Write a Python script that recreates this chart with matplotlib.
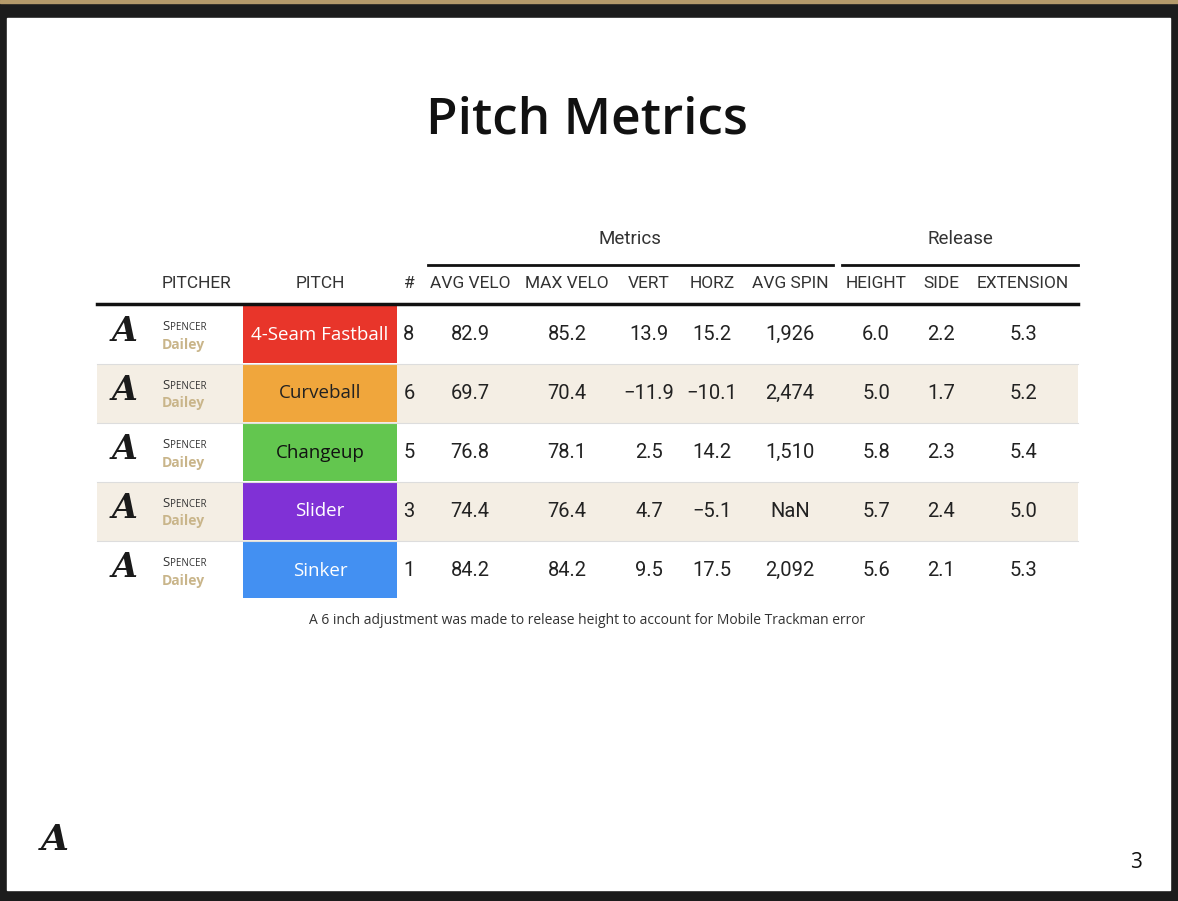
import matplotlib.pyplot as plt
import matplotlib.patches as patches

pitches = ['4-Seam Fastball', 'Curveball', 'Changeup', 'Slider', 'Sinker']
counts = ['8', '6', '5', '3', '1']
avg_velo = ['82.9', '69.7', '76.8', '74.4', '84.2']
max_velo = ['85.2', '70.4', '78.1', '76.4', '84.2']
vert = ['13.9', '\u221211.9', '2.5', '4.7', '9.5']
horz = ['15.2', '\u221210.1', '14.2', '\u22125.1', '17.5']
avg_spin = ['1,926', '2,474', '1,510', 'NaN', '2,092']
height = ['6.0', '5.0', '5.8', '5.7', '5.6']
side = ['2.2', '1.7', '2.3', '2.4', '2.1']
extension = ['5.3', '5.2', '5.4', '5.0', '5.3']
pitch_colors = ['#E8352A', '#F0A63C', '#63C64F', '#8031D6', '#4390F2']
pitch_text = ['white', '#222222', '#111111', 'white', 'white']

headers = ['PITCHER', 'PITCH', '#', 'AVG VELO', 'MAX VELO', 'VERT', 'HORZ',
           'AVG SPIN', 'HEIGHT', 'SIDE', 'EXTENSION']

fig = plt.figure(figsize=(11.78, 9.01), dpi=100, facecolor='#1c1c1c')
ax = fig.add_axes([0, 0, 1, 1])
ax.set_xlim(0, 1178)
ax.set_ylim(901, 0)
ax.axis('off')

# slide
ax.add_patch(patches.Rectangle((0, 0), 1178, 3, color='#b59a6a'))
ax.add_patch(patches.Rectangle((7, 18), 1163, 872, color='white'))

ax.text(587, 120, 'Pitch Metrics', fontsize=37, fontweight='semibold',
        family='Open Sans', ha='center', va='center', color='#111111')

tf = 'Roboto'
# group headers
ax.text(630, 239, 'Metrics', fontsize=13.5, family=tf, ha='center', va='center', color='#333333')
ax.text(960, 239, 'Release', fontsize=13.5, family=tf, ha='center', va='center', color='#333333')
ax.plot([428, 833], [265, 265], color='#111111', lw=2)
ax.plot([842, 1078], [265, 265], color='#111111', lw=2)

col_x = [162, 320, 409, 470, 567, 649, 712, 790, 876, 941, 1023]
for i, h in enumerate(headers):
    ax.text(col_x[i], 283, h, fontsize=12.5, family=tf, color='#333333',
            ha='left' if i == 0 else 'center', va='center')
ax.plot([97, 1078], [304, 304], color='#111111', lw=2.5)

top = 305
rh = 59
for r in range(len(pitches)):
    y0 = top + r * rh
    yc = y0 + rh / 2
    if r % 2 == 1:
        ax.add_patch(patches.Rectangle((97, y0), 981, rh, color='#F4EEE4', lw=0))
    if r > 0:
        ax.plot([97, 1078], [y0, y0], color='#dddddd', lw=0.8)
    ax.add_patch(patches.Rectangle((243, y0), 154, rh - 1 if r < 4 else rh - 2,
                                   color=pitch_colors[r], lw=0))
    ax.text(320, yc, pitches[r], fontsize=13.5, family='Open Sans',
            color=pitch_text[r], ha='center', va='center')
    # logo stand-in
    ax.text(125, yc - 3, 'A', fontsize=24, fontweight='bold', style='italic',
            family='DejaVu Serif', color='#1a1a1a', ha='center', va='center')
    ax.text(162, yc - 8, 'S', fontsize=9.5, family='Open Sans', color='#333333', va='center')
    ax.text(170, yc - 7, 'PENCER', fontsize=7, family='Open Sans', color='#333333', va='center')
    ax.text(162, yc + 10, 'Dailey', fontsize=10, fontweight='bold', family='Open Sans',
            color='#C9B58A', va='center')
    vals = [counts[r], avg_velo[r], max_velo[r], vert[r], horz[r], avg_spin[r],
            height[r], side[r], extension[r]]
    for j, v in enumerate(vals):
        ax.text(col_x[j + 2], yc, v, fontsize=14.5, family=tf, color='#222222',
                ha='center', va='center')

ax.text(587, 621, 'A 6 inch adjustment was made to release height to account for Mobile Trackman error',
        fontsize=10, family='Open Sans', color='#333333', ha='center', va='center')
ax.text(55, 840, 'A', fontsize=26, fontweight='bold', style='italic',
        family='DejaVu Serif', color='#1a1a1a', ha='center', va='center')
ax.text(1136, 862, '3', fontsize=15, family='Open Sans', color='#111111', ha='center', va='center')

fig.savefig('out.png', dpi=100, facecolor=fig.get_facecolor())
